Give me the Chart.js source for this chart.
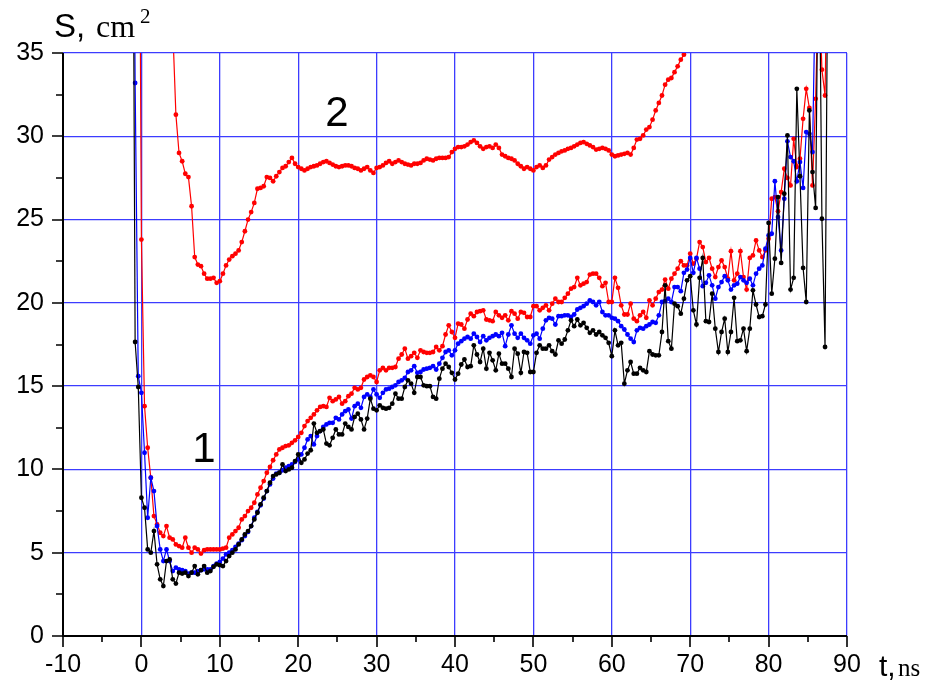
<!DOCTYPE html>
<html>
<head>
<meta charset="utf-8">
<title>S(t)</title>
<script src="https://cdn.jsdelivr.net/npm/chart.js@4.4.1/dist/chart.umd.min.js"></script>
<style>
  html, body { margin: 0; padding: 0; background: #fff; }
  #wrap { width: 934px; height: 689px; position: relative; }
</style>
</head>
<body>
<div id="wrap"><canvas id="chart" width="934" height="689"></canvas></div>
<script>
// sampling step of the recorded traces, ns
const STEP = 0.4;

// axis ticks
const xTicks = [-10, 0, 10, 20, 30, 40, 50, 60, 70, 80, 90];
const yTicks = [0, 5, 10, 15, 20, 25, 30, 35];

// pre-trigger baseline (black), starts at -10 ns
const baseStart = -10;
const baseS = [0, 0, 0, 0, 0, 0, 0, 0, 0, 0, 0, 0, 0, 0, 0, 0, 0, 0];

// curve group 1, black trace, starts at -1.2 ns
const blackStart = -1.2;
const blackS = [
  60, 17.65, 14.95, 8.3, 7.7, 5.2, 5.0, 6.3, 4.3, 3.4,
  3.0, 4.5, 4.6, 3.4, 3.15, 3.8, 3.75, 3.8, 3.6, 3.8,
  4.2, 3.7, 3.95, 4.2, 3.8, 3.9, 4.15, 4.3, 4.25, 4.2,
  4.5, 4.8, 5.0, 5.2, 5.5, 5.8, 6.1, 6.3, 6.6, 7.0,
  7.4, 7.9, 8.3, 8.7, 9.2, 9.6, 9.7, 9.8, 10.3, 9.9,
  10.0, 10.1, 10.5, 10.9, 10.4, 10.6, 10.95, 11.15, 12.75, 12.2,
  12.3, 12.4, 11.55, 11.45, 11.9, 12.4, 12.1, 12.1, 12.75, 12.55,
  12.4, 13.15, 13.35, 13.0, 12.4, 13.05, 14.25, 13.65, 13.55, 13.85,
  13.7, 13.65, 13.7, 13.95, 14.55, 14.25, 14.25, 14.95, 15.35, 15.15,
  14.6, 15.55, 15.55, 15.05, 15.0, 15.0, 14.35, 14.25, 15.45, 16.05,
  16.35, 16.15, 15.8, 15.4, 15.75, 16.3, 16.6, 16.15, 16.2, 17.45,
  16.9, 16.45, 17.25, 16.05, 17.0, 16.55, 15.95, 16.95, 16.35, 16.35,
  16.05, 15.55, 17.25, 16.95, 15.8, 17.05, 17.0, 15.85, 15.85, 17.0,
  17.45, 17.25, 17.25, 17.45, 17.1, 16.9, 17.75, 17.55, 17.8, 18.35,
  18.95, 18.6, 19.0, 18.65, 18.8, 18.5, 18.2, 18.35, 18.1, 18.25,
  18.05, 17.9, 17.6, 16.8, 18.35, 17.45, 17.6, 15.15, 15.95, 16.45,
  15.75, 15.75, 16.1, 15.95, 15.85, 17.1, 16.9, 16.85, 16.85, 18.25,
  21.05, 17.7, 17.25, 19.95, 19.8, 19.35, 20.25, 21.35, 21.6, 19.55,
  18.7, 21.5, 22.7, 18.9, 18.85, 20.55, 18.45, 17.05, 18.25, 19.05,
  17.05, 18.25, 20.3, 17.7, 17.75, 18.45, 17.1, 18.45, 20.75, 19.9,
  19.15, 19.2, 19.9, 24.8, 20.55, 22.65, 26.35, 22.4, 26.55, 30.05,
  20.8, 21.5, 32.85, 27.6, 22.1, 20.05, 31.55, 27.85, 25.7, 45,
  25.05, 17.35, 45
];

// curve group 1, blue trace, starts at -1.2 ns
const blueStart = -1.2;
const blueS = [
  60, 33.2, 15.6, 14.6, 11.0, 7.1, 9.5, 8.7, 6.6, 5.2,
  4.5, 5.2, 4.5, 3.9, 4.1, 4.0, 3.95, 3.9, 3.75, 3.8,
  3.8, 3.9, 3.95, 4.0, 4.0, 4.0, 4.2, 4.35, 4.45, 4.65,
  4.9, 5.0, 5.15, 5.35, 5.55, 5.75, 6.0, 6.25, 6.6, 7.1,
  7.45, 7.85, 8.25, 8.7, 9.1, 9.45, 9.75, 9.8, 9.95, 10.1,
  10.2, 10.3, 10.45, 10.6, 10.9, 11.3, 11.8, 12.0, 11.5, 12.0,
  12.3, 12.55, 12.7, 12.8, 12.8, 13.1, 13.0, 13.3, 13.5, 13.6,
  13.05, 13.8, 13.95, 13.7, 14.35, 14.5, 14.35, 14.8, 14.5, 14.3,
  14.6, 14.8, 14.85, 14.95, 15.05, 15.25, 15.35, 15.5, 15.85, 15.95,
  16.2, 15.8, 15.85, 16.0, 16.05, 16.1, 16.2, 16.0, 16.35, 16.7,
  17.05, 17.15, 16.85, 17.15, 17.55, 17.7, 17.85, 17.95, 17.85, 18.15,
  17.95, 17.65, 18.0, 17.75, 17.9, 18.0, 18.1, 18.0, 18.2, 17.4,
  18.1, 18.65, 18.15, 17.9, 18.15, 17.9, 17.75, 17.55, 18.05, 18.15,
  17.85, 18.45, 18.95, 19.1, 19.05, 18.7, 19.2, 19.2, 19.25, 19.25,
  19.15, 19.3, 19.6, 19.7, 19.8, 19.95, 20.15, 20.05, 19.85, 20.05,
  19.45, 19.25, 19.25, 19.1, 19.05, 18.9, 18.6, 18.4, 18.1, 17.85,
  17.65, 18.35, 18.5, 18.45, 18.6, 18.7, 18.85, 18.8, 19.25, 20.05,
  20.1, 20.25, 20.05, 20.95, 20.95, 20.7, 21.8, 22.0, 22.7, 21.8,
  22.7, 22.05, 21.0, 21.2, 21.65, 21.05, 20.25, 20.95, 21.25, 21.6,
  21.35, 20.8, 21.05, 21.15, 21.55, 21.35, 21.2, 21.45, 21.05, 21.75,
  22.05, 22.25, 23.25, 24.05, 24.15, 27.3, 25.15, 23.15, 26.25, 29.7,
  28.75, 28.5, 27.3, 28.45, 26.9, 30.25, 30.15, 29.05, 40, 48
];

// curve group 1, red trace, starts at -0.4 ns
const red1Start = -0.4;
const red1S = [
  60, 23.8, 13.8, 11.3, 9.5, 7.2, 6.7, 6.2, 6.0, 6.6,
  5.9, 5.8, 5.5, 5.4, 5.3, 5.9, 5.3, 5.0, 5.3, 5.2,
  4.95, 5.15, 5.2, 5.2, 5.2, 5.2, 5.2, 5.25, 5.3, 5.9,
  6.1, 6.3, 6.5, 7.0, 7.2, 7.5, 7.7, 8.0, 8.5, 8.9,
  9.3, 9.8, 10.15, 10.55, 10.9, 11.2, 11.3, 11.4, 11.45, 11.6,
  11.75, 11.95, 12.2, 12.6, 12.9, 13.1, 13.3, 13.55, 13.75, 13.8,
  13.75, 14.3, 14.1, 14.2, 14.35, 13.95, 14.1, 14.4, 14.55, 14.9,
  14.8, 14.9, 15.4, 15.55, 15.65, 15.55, 15.25, 15.95, 16.1, 15.95,
  16.1, 16.1, 16.15, 16.65, 16.9, 17.25, 16.65, 16.8, 17.0, 16.7,
  17.15, 17.05, 17.0, 17.0, 17.05, 17.35, 17.15, 17.4, 18.1, 18.65,
  18.25, 17.9, 18.75, 18.7, 18.45, 19.0, 19.35, 19.2, 19.45, 19.5,
  19.55, 19.0, 18.95, 18.9, 19.45, 19.25, 19.1, 19.25, 18.95, 19.5,
  19.35, 19.05, 19.45, 19.4, 19.15, 19.15, 19.8, 19.8, 19.55, 19.7,
  19.85, 19.55, 19.95, 20.25, 20.05, 20.05, 20.3, 20.55, 20.85, 20.95,
  21.5, 21.05, 21.15, 21.25, 21.7, 21.75, 21.75, 21.5, 21.0, 21.2,
  20.05, 20.05, 21.5, 20.9, 19.85, 19.3, 19.3, 19.95, 19.05, 18.9,
  19.25, 19.45, 19.1, 20.15, 19.85, 20.25, 20.65, 20.8, 21.4, 20.85,
  21.45, 21.75, 22.05, 22.5, 22.25, 22.25, 22.95, 22.35, 22.65, 23.65,
  23.35, 22.45, 22.7, 22.05, 21.55, 22.15, 22.55, 22.15, 21.45, 23.1,
  21.35, 21.75, 23.1, 21.55, 20.8, 22.7, 22.85, 23.75, 23.15, 22.75,
  23.15, 23.85, 26.25, 26.35, 25.5, 26.65, 28.05, 27.5, 27.05, 29.85,
  28.15, 28.65, 31.05, 32.85, 31.7, 27.05, 32.25, 40, 34.0, 32.45,
  45
];

// curve 2, red, starts at 4.0 ns
const red2Start = 4.0;
const red2S = [
  36.5, 31.3, 29.0, 28.5, 27.75, 27.55, 25.8, 22.75, 22.3, 22.2,
  21.75, 21.45, 21.45, 21.5, 21.2, 21.3, 21.75, 22.25, 22.6, 22.8,
  22.95, 23.15, 23.65, 24.3, 25.0, 25.45, 26.0, 26.85, 26.9, 27.0,
  27.55, 27.5, 27.3, 27.6, 27.85, 28.1, 28.2, 28.45, 28.7, 28.35,
  28.15, 28.05, 27.95, 28.05, 28.15, 28.2, 28.25, 28.35, 28.45, 28.5,
  28.4, 28.3, 28.2, 28.15, 28.2, 28.25, 28.25, 28.2, 28.1, 28.05,
  27.95, 28.05, 28.15, 27.95, 27.8, 28.1, 28.15, 28.25, 28.4, 28.5,
  28.35, 28.45, 28.55, 28.45, 28.35, 28.3, 28.25, 28.35, 28.35, 28.4,
  28.55, 28.65, 28.6, 28.55, 28.65, 28.7, 28.7, 28.7, 28.75, 29.05,
  29.25, 29.35, 29.35, 29.4, 29.5, 29.65, 29.75, 29.6, 29.4, 29.25,
  29.35, 29.4, 29.3, 29.5, 29.3, 28.9, 28.8, 28.7, 28.65, 28.55,
  28.35, 28.2, 28.05, 28.15, 28.05, 27.95, 28.15, 28.25, 28.1, 28.25,
  28.6, 28.75, 28.9, 29.0, 29.1, 29.15, 29.25, 29.3, 29.4, 29.5,
  29.6, 29.65, 29.55, 29.45, 29.35, 29.2, 29.25, 29.3, 29.25, 29.15,
  28.9, 28.8, 28.85, 28.9, 28.95, 29.0, 28.9, 29.3, 29.8, 29.85,
  30.05, 30.4, 30.55, 31.0, 31.55, 32.0, 32.45, 33.1, 33.4, 33.5,
  33.85, 34.2, 34.6, 34.9, 35.5
];

function toPoints(start, values) {
    return values.map((v, i) => ({ x: +(start + i * STEP).toFixed(2), y: v }));
}

function trace(values, start, color, radius, order) {
    return {
        data: toPoints(start, values),
        borderColor: color,
        backgroundColor: color,
        borderWidth: 1.2,
        pointRadius: radius,
        pointBorderWidth: 0,
        pointBackgroundColor: color,
        tension: 0,
        order
    };
}

const SANS = "'Liberation Sans', Arial, sans-serif";
const SERIF = "'Liberation Serif', 'Times New Roman', serif";

// black axes with outward major/minor ticks, axis captions and curve numbers
const frame = {
    id: 'frame',
    afterDraw(chart) {
        const { ctx, chartArea: a, scales: { x, y } } = chart;
        ctx.save();
        ctx.strokeStyle = '#000';
        ctx.lineWidth = 2;
        ctx.beginPath();
        ctx.moveTo(a.left, a.top);
        ctx.lineTo(a.left, a.bottom);
        ctx.lineTo(a.right, a.bottom);
        ctx.stroke();

        ctx.lineWidth = 1.6;
        ctx.beginPath();
        xTicks.forEach((v, i) => {
            const px = Math.round(x.getPixelForValue(v));
            ctx.moveTo(px, a.bottom); ctx.lineTo(px, a.bottom + 11);
            if (i < xTicks.length - 1) {
                const pm = Math.round(x.getPixelForValue((v + xTicks[i + 1]) / 2));
                ctx.moveTo(pm, a.bottom); ctx.lineTo(pm, a.bottom + 6);
            }
        });
        yTicks.forEach((v, i) => {
            const py = Math.round(y.getPixelForValue(v));
            ctx.moveTo(a.left, py); ctx.lineTo(a.left - 11, py);
            if (i < yTicks.length - 1) {
                const pm = Math.round(y.getPixelForValue((v + yTicks[i + 1]) / 2));
                ctx.moveTo(a.left, pm); ctx.lineTo(a.left - 7, pm);
            }
        });
        ctx.stroke();

        ctx.fillStyle = '#000';
        ctx.textBaseline = 'alphabetic';
        ctx.textAlign = 'left';
        ctx.font = '33px ' + SANS;
        ctx.fillText('S,', 54, 37);
        ctx.font = '32px ' + SERIF;
        ctx.fillText('cm', 96, 37);
        ctx.font = '21px ' + SERIF;
        ctx.fillText('2', 140, 23);

        ctx.font = '30px ' + SANS;
        ctx.fillText('t,', 879, 676);
        ctx.font = '25px ' + SERIF;
        ctx.fillText('ns', 898, 676);

        ctx.font = '42px ' + SANS;
        ctx.textAlign = 'center';
        ctx.fillText('1', 204, 462);
        ctx.fillText('2', 337, 126);
        ctx.restore();
    }
};

new Chart(document.getElementById('chart'), {
    type: 'line',
    data: {
        datasets: [
            trace(blackS, blackStart, '#000000', 2.4, 0),
            trace(blueS, blueStart, '#0000ff', 2.4, 1),
            trace(red1S, red1Start, '#ff0000', 2.4, 2),
            trace(red2S, red2Start, '#ff0000', 2.4, 3),
            trace(baseS, baseStart, '#000000', 1, 4)
        ]
    },
    options: {
        responsive: false,
        animation: false,
        devicePixelRatio: 1,
        layout: { padding: { left: 0, top: 53, right: 87, bottom: 0 } },
        plugins: { legend: { display: false }, tooltip: { enabled: false } },
        scales: {
            x: {
                type: 'linear',
                min: -10,
                max: 90,
                afterBuildTicks: s => { s.ticks = xTicks.map(v => ({ value: v })); },
                afterFit: s => { s.height = 53; },
                grid: { color: '#3c3cff', lineWidth: 1.3, drawTicks: false },
                border: { display: false },
                ticks: { color: '#000', font: { family: SANS, size: 25 }, padding: 14, maxRotation: 0 }
            },
            y: {
                min: 0,
                max: 35,
                afterBuildTicks: s => { s.ticks = yTicks.map(v => ({ value: v })); },
                afterFit: s => { s.width = 63; },
                grid: { color: '#3c3cff', lineWidth: 1.3, drawTicks: false },
                border: { display: false },
                ticks: { color: '#000', font: { family: SANS, size: 25 }, padding: 19 }
            }
        }
    },
    plugins: [frame]
});
</script>
</body>
</html>
